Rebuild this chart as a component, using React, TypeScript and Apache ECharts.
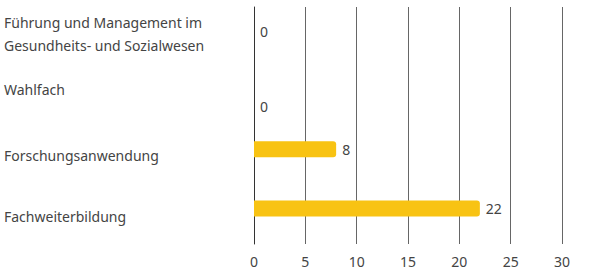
import React, { useEffect, useRef } from "react";
import * as echarts from "echarts";

const categories = [
  "Führung und Management im\nGesundheits- und Sozialwesen",
  "Wahlfach",
  "Forschungsanwendung",
  "Fachweiterbildung",
];
const values = [0, 0, 8, 22];
const xTicks = { min: 0, max: 30, interval: 5 };
// vertical nudges (style only): value labels and category labels
const labelNudge = [1, 17, 0, 0];
const catNudge = [-5, -6, 0, 2];

export default function App() {
  const ref = useRef<HTMLDivElement>(null);
  useEffect(() => {
    if (!ref.current) return;
    const chart = echarts.init(ref.current, null, { renderer: "svg" });
    const font = "Noto Sans";
    const rich: Record<string, any> = {};
    catNudge.forEach((n, i) => {
      rich["s" + i] = {
        color: "#444",
        fontSize: 14,
        fontFamily: font,
        lineHeight: 23,
        padding: n < 0 ? [0, 0, -2 * n / (i === 0 ? 2 : 1), 0] : [2 * n, 0, 0, 0],
      };
    });
    chart.setOption({
      animation: false,
      grid: { left: 254, right: 48, top: 7, bottom: 29, containLabel: false },
      xAxis: {
        type: "value",
        min: xTicks.min,
        max: xTicks.max,
        interval: xTicks.interval,
        axisLine: { show: false },
        axisTick: { show: false },
        splitLine: { show: true, lineStyle: { color: "#666", width: 1 } },
        axisLabel: { color: "#444", fontSize: 14, fontFamily: font, margin: 10 },
      },
      yAxis: {
        type: "category",
        inverse: true,
        data: categories,
        axisLine: { show: true, lineStyle: { color: "#333", width: 1 } },
        axisTick: { show: false },
        axisLabel: {
          color: "#444",
          fontSize: 14,
          fontFamily: font,
          align: "left",
          margin: 250,
          lineHeight: 23,
          formatter: (v: string, i: number) =>
            v
              .split("\n")
              .map((l) => `{s${i}|${l}}`)
              .join("\n"),
          rich,
        },
      },
      series: [
        {
          type: "bar",
          data: values.map((v, i) => ({
            value: v,
            label: { offset: [0, labelNudge[i]] },
          })),
          barWidth: 16,
          barGap: "-25%",
          itemStyle: { color: "#F8C313", borderRadius: [0, 3, 3, 0] },
          label: {
            show: true,
            position: "right",
            distance: 6,
            color: "#444",
            fontSize: 14,
            fontFamily: font,
          },
        },
        {
          type: "bar",
          data: values.map(() => "-"),
          barWidth: 16,
          itemStyle: { color: "transparent" },
        },
      ],
    });
    return () => chart.dispose();
  }, []);
  return (
    <div
      ref={ref}
      style={{ position: "fixed", left: 0, top: 0, width: 610, height: 273, background: "#fff" }}
    />
  );
}
